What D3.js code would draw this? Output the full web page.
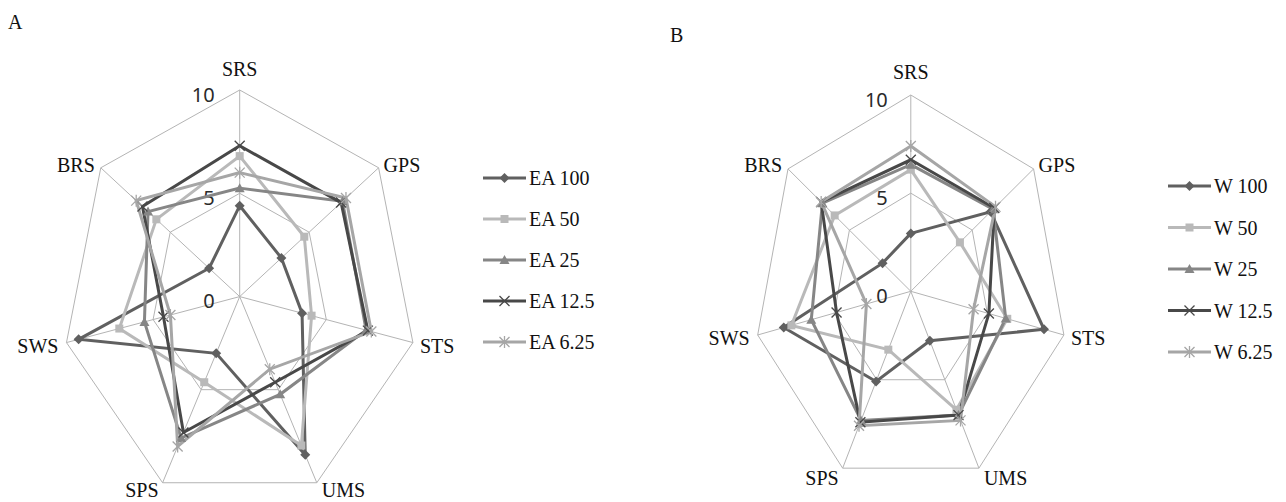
<!DOCTYPE html>
<html><head><meta charset="utf-8">
<script src="https://cdn.jsdelivr.net/npm/d3@7"></script>
<style>body{margin:0;background:#fff}</style>
</head><body>
<svg id="c" width="1286" height="502"></svg>
<script>
const categories = ["SRS","GPS","STS","UMS","SPS","SWS","BRS"];
const tickValues = [0, 5, 10];
const tickLabels = ["0", "5", "10"];

const namesA = ["EA 100","EA 50","EA 25","EA 12.5","EA 6.25"];
const ea100  = [4.4, 3.0, 3.6, 8.5, 3.05, 9.3, 2.2];
const ea50   = [6.8, 4.65, 4.15, 8.0, 4.6, 6.95, 6.0];
const ea25   = [5.25, 7.4, 7.3, 5.25, 7.6, 5.5, 6.6];
const ea12_5 = [7.3, 7.3, 7.4, 4.6, 7.3, 4.4, 7.0];
const ea6_25 = [6.0, 7.65, 7.6, 3.9, 8.05, 4.0, 7.45];

const namesB = ["W 100","W 50","W 25","W 12.5","W 6.25"];
const w100   = [2.95, 6.5, 8.7, 2.8, 5.1, 8.3, 2.3];
const w50    = [6.2, 4.0, 6.3, 6.7, 3.3, 7.8, 6.2];
const w25    = [6.45, 6.7, 6.2, 7.0, 7.3, 6.5, 7.2];
const w12_5  = [6.7, 6.8, 5.1, 7.0, 7.4, 4.85, 7.3];
const w6_25  = [7.4, 6.9, 4.1, 7.3, 7.6, 2.9, 7.3];

const colors  = ["#606060","#b9b9b9","#868686","#484848","#a6a6a6"];
const symbols = ["diamond","square","triangle","x","asterisk"];

const svg = d3.select("#c");

function marker(g, type, x, y, color) {
  if (type === "diamond") {
    g.append("path").attr("d", `M${x},${y-5}L${x+5},${y}L${x},${y+5}L${x-5},${y}Z`).attr("fill", color);
  } else if (type === "square") {
    g.append("rect").attr("x", x-4).attr("y", y-4).attr("width", 8).attr("height", 8).attr("fill", color);
  } else if (type === "triangle") {
    g.append("path").attr("d", `M${x},${y-5}L${x+5},${y+4}L${x-5},${y+4}Z`).attr("fill", color);
  } else {
    g.append("path").attr("d", `M${x-5},${y-5}L${x+5},${y+5}M${x-5},${y+5}L${x+5},${y-5}` + (type === "asterisk" ? `M${x},${y-6}L${x},${y+6}` : ""))
      .attr("stroke", color).attr("stroke-width", 1.3).attr("fill", "none");
  }
}

function radar(o) {
  const g = svg.append("g");
  const n = categories.length;
  const r = d3.scaleLinear().domain([0, 10]).range([0, o.R]);
  const ang = i => i * 2 * Math.PI / n;
  const pt = (i, v) => [o.cx + o.sx * r(v) * Math.sin(ang(i)), o.cy - r(v) * Math.cos(ang(i))];

  [5, 10].forEach(v => {
    g.append("path").attr("d", d3.line()(d3.range(n).map(i => pt(i, v))) + "Z")
      .attr("fill", "none").attr("stroke", "#b4b4b4").attr("stroke-width", 1);
  });
  d3.range(n).forEach(i => {
    const p = pt(i, 10);
    g.append("line").attr("x1", o.cx).attr("y1", o.cy).attr("x2", p[0]).attr("y2", p[1])
      .attr("stroke", "#b4b4b4").attr("stroke-width", 1);
  });
  tickValues.forEach((v, k) => {
    g.append("text").attr("x", o.cx - o.tickDx).attr("y", o.cy - r(v) + 4)
      .attr("text-anchor", "end").attr("dominant-baseline", "central")
      .attr("font-family", "'Noto Sans', sans-serif").attr("font-size", 20).attr("fill", "#2a2a2a")
      .text(tickLabels[k]);
  });
  const dx = [0, 5, 7, 5, -4, -8, -6];
  const dy = o.labDy;
  const anch = ["middle","start","start","start","end","end","end"];
  categories.forEach((c, i) => {
    const p = pt(i, 10);
    g.append("text").attr("x", p[0] + dx[i]).attr("y", p[1] + dy[i])
      .attr("text-anchor", anch[i]).attr("dominant-baseline", "central")
      .attr("font-family", "'Liberation Serif', 'Times New Roman', serif").attr("font-size", 20).attr("fill", "#111")
      .text(c);
  });
  o.series.forEach((vals, s) => {
    const pts = vals.map((v, i) => pt(i, v));
    g.append("path").attr("d", d3.line()(pts) + "Z")
      .attr("fill", "none").attr("stroke", colors[s]).attr("stroke-width", 3).attr("stroke-linejoin", "miter");
  });
  o.series.forEach((vals, s) => {
    vals.forEach((v, i) => { const p = pt(i, v); marker(g, symbols[s], p[0], p[1], colors[s]); });
  });
  o.names.forEach((nm, s) => {
    const y = o.legY + s * o.legStep;
    g.append("line").attr("x1", o.legX).attr("x2", o.legX + 43).attr("y1", y).attr("y2", y)
      .attr("stroke", colors[s]).attr("stroke-width", 3);
    marker(g, symbols[s], o.legX + 21.5, y, colors[s]);
    g.append("text").attr("x", o.legX + 46).attr("y", y).attr("dominant-baseline", "central")
      .attr("font-family", "'Liberation Serif', 'Times New Roman', serif").attr("font-size", 20).attr("fill", "#111")
      .text(nm);
  });
  g.append("text").attr("x", o.letX).attr("y", o.letY).attr("dominant-baseline", "central")
    .attr("font-family", "'Liberation Serif', 'Times New Roman', serif").attr("font-size", 20).attr("fill", "#111")
    .text(o.letter);
}

radar({cx: 239.7, cy: 296.6, R: 206.6, sx: 0.86, tickDx: 25,
  labDy: [-21, -3, 3, 7, 7, 3, -3],
  series: [ea100, ea50, ea25, ea12_5, ea6_25], names: namesA,
  legX: 483, legY: 178, legStep: 41, letter: "A", letX: 8, letY: 22});

radar({cx: 910.8, cy: 291.3, R: 196.3, sx: 0.80, tickDx: 23,
  labDy: [-23, -4, 3, 10, 10, 3, -4],
  series: [w100, w50, w25, w12_5, w6_25], names: namesB,
  legX: 1168, legY: 186, legStep: 41.5, letter: "B", letX: 670, letY: 35});
</script>
</body></html>
